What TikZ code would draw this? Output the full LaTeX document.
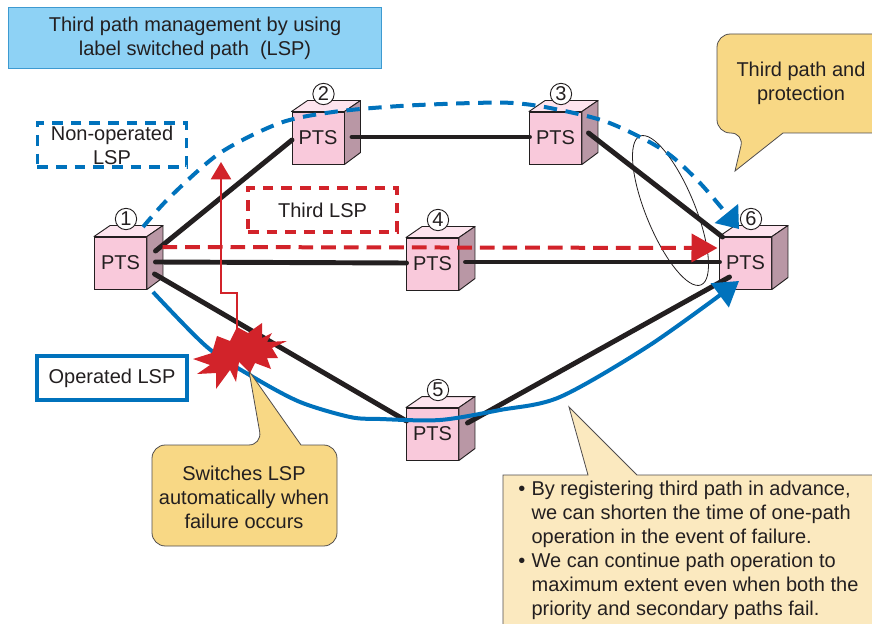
\documentclass[tikz,border=0pt]{standalone}
\usepackage{fontspec}
\setmainfont{Liberation Sans}
\usetikzlibrary{arrows.meta}
\definecolor{inkdark}{HTML}{231F20}
\definecolor{lspblue}{HTML}{0072BC}
\definecolor{lspred}{HTML}{D2232A}
\definecolor{titlefill}{HTML}{8ED2F5}
\definecolor{titleline}{HTML}{3D9AD1}
\definecolor{ptsfront}{HTML}{F9C9DB}
\definecolor{ptstop}{HTML}{FDE4EE}
\definecolor{ptsside}{HTML}{B997A5}
\definecolor{calloutfill}{HTML}{F8D885}
\definecolor{notefill}{HTML}{FBE9BF}

\begin{document}
\begin{tikzpicture}[x=.75pt,y=-.75pt,
    every node/.style={font=\fontsize{15}{18}\selectfont,text=inkdark,align=center},
    ptsface/.style={draw=inkdark,line width=.7pt,fill=ptsfront,minimum size=39pt,inner sep=0pt},
    ptsedge/.style={draw=inkdark,line width=.7pt,line join=round},
    numcircle/.style={draw=inkdark,line width=.7pt,fill=white,circle,minimum size=16pt,inner sep=0pt},
    link/.style={draw=inkdark,line width=3.7pt,line cap=round},
    legendbox/.style={line width=2.6pt,minimum width=112pt,minimum height=33pt,inner sep=0pt},
    callout/.style={draw=inkdark!80,line width=.6pt,fill=calloutfill}]
  \path[use as bounding box,clip] (0,0) rectangle (872,624);

  \node[draw=titleline,line width=.8pt,fill=titlefill,minimum width=280pt,minimum height=46pt,inner sep=0pt] (title) at (195,38) {Third path management by using\\label switched path\ \ (LSP)};
  \node[legendbox,draw=lspblue,dash pattern=on 8pt off 6pt] (nonop) at (112,145) {Non-operated\\LSP};
  \node[legendbox,draw=lspred,dash pattern=on 8pt off 6pt] (third) at (322.5,210) {Third LSP};
  \node[legendbox,draw=lspblue,line width=3pt] (oper) at (112,378) {Operated LSP};

  % boxes with their numbers
  \foreach \n/\x/\y in {1/120.5/263,2/318/138,3/555.5/138,4/432.5/264,5/432.5/434,6/745.5/263}{
    \node[ptsface] (pts\n) at (\x,\y) {PTS};
    \draw[ptsedge,fill=ptstop] (pts\n.north west) -- ++(16,-11) -- ++(53,0) -- (pts\n.north east) -- cycle;
    \draw[ptsedge,fill=ptsside] (pts\n.north east) -- ++(16,-11) -- ++(0,52) -- (pts\n.south east) -- cycle;
    \node[numcircle] (num\n) at ([shift={(5.5,-44)}]pts\n.center) {\n};
  }

  \draw[link] ([shift={(35,-12)}]pts1.center) -- ([shift={(-26,2)}]pts2.center);
  \draw[link] ([shift={(35,-1)}]pts1.center) -- ([shift={(-26,-1)}]pts4.center);
  \draw[link] ([shift={(34,11)}]pts1.center) -- ([shift={(-26,-13)}]pts5.center);
  \draw[link] ([shift={(34,-1)}]pts2.center) -- ([shift={(-26,-1)}]pts3.center);
  \draw[link] ([shift={(33,-5)}]pts3.center) -- ([shift={(-23,-26)}]pts6.center);
  \draw[link] ([shift={(33,-2)}]pts4.center) -- ([shift={(-26,-1)}]pts6.center);
  \draw[link] ([shift={(35,-11)}]pts5.center) -- ([shift={(-16,14)}]pts6.center);

  \draw[inkdark,line width=.6pt,rotate around={-67.7:(670.5,210.5)}] (670.5,210.5) ellipse (80.4 and 24.5);

  % the three paths
  \draw[lspred,line width=3pt,dash pattern=on 11pt off 6pt,-{Triangle[width=21pt,length=19.5pt]}] ([shift={(42,-16)}]pts1.center) -- ([shift={(-28,-15)}]pts6.center);
  \draw[lspblue,line width=3pt,dash pattern=on 10pt off 6.5pt,-{Triangle[width=22pt,length=15pt]}] plot[smooth] coordinates {(143,227) (170,197) (220,153) (280,123) (333,112) (400,106) (473,103) (513,103) (550,108) (607,122) (663,150) (700,183) (739,229)};
  \draw[lspblue,line width=3pt,-{Triangle[width=22pt,length=18pt]}] plot[smooth] coordinates {(153,292) (207,347) (253,377) (300,402) (350,417) (380,419) (440,420) (500,410) (560,397) (650,345) (739,281)};
  \draw[lspred,line width=1.7pt,-{Triangle[width=15pt,length=13pt]}] (237,330) -- (237,293) -- (221,293) -- (221,162);

  % failure burst
  \fill[lspred] (193,359) -- (212,353) -- (217,336) -- (230,341) -- (237,327) -- (248,333) -- (262,323) -- (262,338) -- (272,333) -- (267,342) -- (287,341) -- (272,348) -- (278,358) -- (267,358) -- (271,369) -- (255,363) -- (250,373) -- (239,362) -- (236,382) -- (230,370) -- (216,389) -- (216,373) -- (197,374) -- (210,365) -- cycle;

  % callouts
  \draw[callout,rounded corners=10pt] (262,445) [sharp corners] -- (249,371) -- (301,445) [rounded corners=10pt] -- (337,445) -- (337,546) -- (152,546) -- (152,445) -- cycle;
  \node (swtext) at (244,497) {Switches LSP\\automatically when\\failure occurs};
  \draw[callout,rounded corners=10pt] (744,133) [sharp corners] -- (735,171) -- (783,133) [rounded corners=10pt] -- (900,133) -- (900,34) -- (717,34) -- (717,133) -- cycle;
  \node (protect) at (801,83) {Third path and\\protection};
  \draw[callout,fill=notefill] (503,475) -- (588,475) -- (569,407) -- (637,475) -- (900,475) -- (900,650) -- (503,650) -- cycle;
  \node[align=left,anchor=north west,inner sep=0pt] (note) at (518,481) {\makebox[10pt][l]{•}By registering third path in advance,\\\hspace*{10pt}we can shorten the time of one-path\\\hspace*{10pt}operation in the event of failure.\\\makebox[10pt][l]{•}We can continue path operation to\\\hspace*{10pt}maximum extent even when both the\\\hspace*{10pt}priority and secondary paths fail.};
\end{tikzpicture}
\end{document}
